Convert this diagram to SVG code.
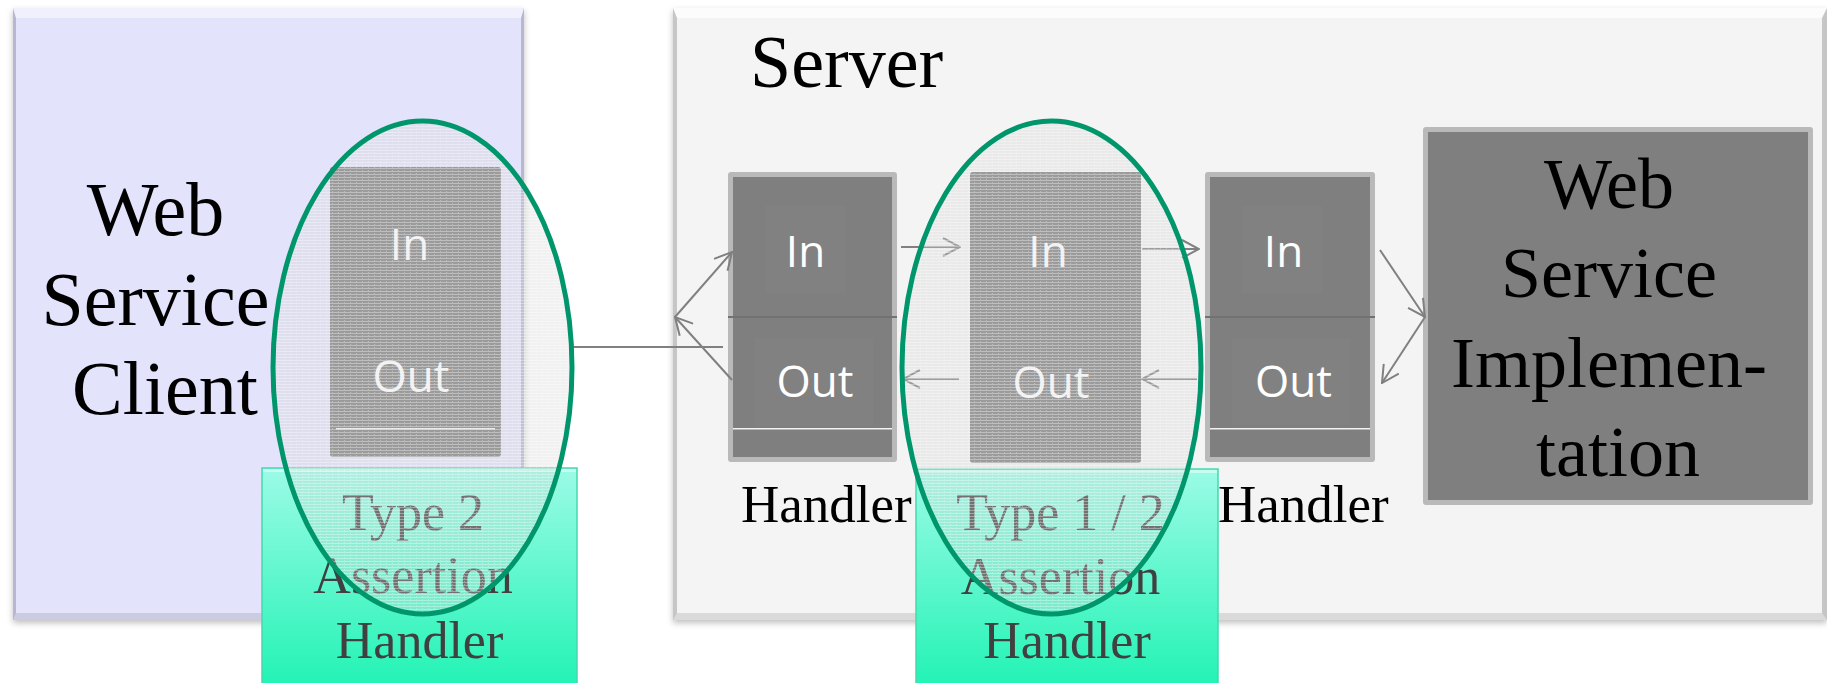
<svg xmlns="http://www.w3.org/2000/svg" width="1827" height="683" viewBox="0 0 1827 683">
  <defs>
    <style>
      .serif { font-family: "Liberation Serif", "Times New Roman", serif; }
      .big { font-size: 72px; fill: #000; }
      .client-name { font-size: 76px; fill: #000; }
      .title { font-size: 74px; fill: #000; }
      .lbl { font-size: 53px; fill: #000; }
      .glbl { font-size: 52px; fill: #404040; text-anchor: middle; }
      .io { font-family: "Open Sans", "DejaVu Sans", sans-serif; font-size: 44px; fill: #fff; text-anchor: middle; }
      .hborder { fill: #b9b9b9; }
      .hfill { fill: #7f7f7f; }
      .tbox { fill: #818181; }
      .mid { fill: #727272; }
      .wline { fill: #f2f2f2; }
      .conn { fill: none; stroke: #808080; stroke-width: 2; }
      .arrow { marker-end: url(#open-arrow); }
      .scope-tint { fill: #d5d5d5; fill-opacity: 0.33; }
      .scope-grain { fill: url(#grain); }
      .scope-ring { fill: none; stroke: #00966c; stroke-width: 5; }
      .assert { fill: url(#mint); stroke: #45d9ad; stroke-width: 1.5; }
    </style>
    <marker id="open-arrow" viewBox="0 0 20 20" refX="19" refY="10" markerWidth="20" markerHeight="20" orient="auto" markerUnits="userSpaceOnUse">
      <path d="M2,1 L19,10 L2,19" fill="none" stroke="#808080" stroke-width="2"/>
    </marker>
    <linearGradient id="mint" x1="0" y1="0" x2="0" y2="1">
      <stop offset="0" stop-color="#9cfbe6"/>
      <stop offset="1" stop-color="#20f3b4"/>
    </linearGradient>
    <pattern id="grain" patternUnits="userSpaceOnUse" width="6" height="3">
      <rect x="0" y="0" width="6" height="1" fill="#ffffff" fill-opacity="0.35"/>
      <rect x="2" y="2" width="1" height="1" fill="#ffffff" fill-opacity="0.3"/>
    </pattern>
    <filter id="shadow" x="-5%" y="-5%" width="110%" height="115%">
      <feDropShadow dx="0" dy="3" stdDeviation="3" flood-color="#000" flood-opacity="0.25"/>
    </filter>
  </defs>

  <rect width="1827" height="683" fill="#ffffff"/>

  <!-- client container -->
  <g id="client">
    <g filter="url(#shadow)">
      <rect x="13" y="8" width="511" height="612" fill="#b7b7d4"/>
      <polygon points="13,8 524,8 521,18 16,18" fill="#f1f1fe"/>
      <rect x="16" y="18" width="505" height="595" fill="#e3e3fc"/>
      <polygon points="16,613 521,613 524,620 13,620" fill="#cbcbe4"/>
    </g>
    <text class="serif client-name" text-anchor="middle">
      <tspan x="165" y="235">Web</tspan>
      <tspan x="165" y="325">Service</tspan>
      <tspan x="165" y="414">Client</tspan>
    </text>
  </g>

  <!-- server container -->
  <g id="server">
    <g filter="url(#shadow)">
      <rect x="673" y="8" width="1154" height="612" fill="#c6c6c6"/>
      <polygon points="673,8 1827,8 1822,18 677,18" fill="#fcfcfc"/>
      <rect x="677" y="18" width="1145" height="595" fill="#f4f4f4"/>
      <polygon points="677,613 1822,613 1827,620 673,620" fill="#dadada"/>
    </g>
    <text class="serif title" x="750" y="87">Server</text>
  </g>

  <!-- client-side handler -->
  <g id="client-handler">
    <rect x="330" y="167" width="171" height="290" rx="3" class="hfill"/>
    <rect x="336" y="428" width="159" height="1.5" class="wline"/>
    <text class="io" x="409.5" y="260">In</text>
    <text class="io" x="411" y="392">Out</text>
  </g>

  <!-- server handlers -->
  <g id="handler-1">
    <rect x="728" y="172" width="169" height="290" rx="3" class="hborder"/>
    <rect x="733" y="177" width="159" height="280" class="hfill"/>
    <rect x="765" y="206" width="80" height="87" class="tbox"/>
    <rect x="755" y="338" width="118" height="88" class="tbox"/>
    <rect x="728" y="316" width="169" height="2" class="mid"/>
    <rect x="733" y="428" width="159" height="1.5" class="wline"/>
    <text class="io" x="805.5" y="267">In</text>
    <text class="io" x="815" y="397">Out</text>
    <text class="serif lbl" x="741" y="522">Handler</text>
  </g>

  <g id="handler-2">
    <rect x="970" y="172" width="171" height="291" rx="3" class="hfill"/>
    <text class="io" x="1048" y="267">In</text>
    <text class="io" x="1051" y="398">Out</text>
  </g>

  <g id="handler-3">
    <rect x="1205" y="172" width="170" height="290" rx="3" class="hborder"/>
    <rect x="1210" y="177" width="160" height="280" class="hfill"/>
    <rect x="1242" y="206" width="80" height="87" class="tbox"/>
    <rect x="1232" y="339" width="118" height="86" class="tbox"/>
    <rect x="1205" y="316" width="170" height="2" class="mid"/>
    <rect x="1210" y="428" width="160" height="1.5" class="wline"/>
    <text class="io" x="1283.5" y="267">In</text>
    <text class="io" x="1293.5" y="397">Out</text>
    <text class="serif lbl" x="1218" y="522">Handler</text>
  </g>

  <!-- service implementation -->
  <g id="ws-impl">
    <rect x="1423" y="127" width="390" height="378" rx="3" class="hborder"/>
    <rect x="1428" y="132" width="380" height="368" class="hfill"/>
    <text class="serif big" text-anchor="middle">
      <tspan x="1618" y="208">Web</tspan>
      <tspan x="1618" y="297">Service</tspan>
      <tspan x="1618" y="387">Implemen-</tspan>
      <tspan x="1618" y="476">tation</tspan>
    </text>
  </g>

  <!-- message flow -->
  <g id="connectors">
    <path class="conn" d="M573,347 H723"/>
    <path class="conn arrow" d="M675,317 L732,252"/>
    <path class="conn arrow" d="M732,380 L675,317"/>
    <path class="conn arrow" d="M901,247 H960"/>
    <path class="conn arrow" d="M1142,249 H1199"/>
    <path class="conn arrow" d="M1197,379 H1142"/>
    <path class="conn arrow" d="M959,379 H903"/>
    <path class="conn arrow" d="M1380,250 L1425,317"/>
    <path class="conn arrow" d="M1425,317 L1382,383"/>
  </g>

  <!-- assertion handlers -->
  <g id="assertion-client">
    <rect x="262" y="468" width="315" height="222" class="assert"/>
    <rect x="263" y="469" width="313" height="3" fill="#c6fff2"/>
    <text class="serif glbl">
      <tspan x="419.5" y="530">Type 2</tspan>
      <tspan x="419.5" y="593">Assertion</tspan>
      <tspan x="419.5" y="658">Handler</tspan>
    </text>
  </g>

  <g id="assertion-server">
    <rect x="916" y="469" width="302" height="221" class="assert"/>
    <rect x="917" y="470" width="300" height="3" fill="#c6fff2"/>
    <text class="serif glbl">
      <tspan x="1067" y="530">Type 1 / 2</tspan>
      <tspan x="1067" y="594">Assertion</tspan>
      <tspan x="1067" y="658">Handler</tspan>
    </text>
  </g>

  <!-- handler scopes -->
  <g id="scope-client">
    <ellipse cx="422.5" cy="367.5" rx="149.5" ry="246.5" class="scope-tint"/>
    <ellipse cx="422.5" cy="367.5" rx="149.5" ry="246.5" class="scope-grain"/>
    <ellipse cx="422.5" cy="367.5" rx="149.5" ry="246.5" class="scope-ring"/>
  </g>

  <g id="scope-server">
    <ellipse cx="1051.5" cy="367.5" rx="149.5" ry="246.5" class="scope-tint"/>
    <ellipse cx="1051.5" cy="367.5" rx="149.5" ry="246.5" class="scope-grain"/>
    <ellipse cx="1051.5" cy="367.5" rx="149.5" ry="246.5" class="scope-ring"/>
  </g>
</svg>
